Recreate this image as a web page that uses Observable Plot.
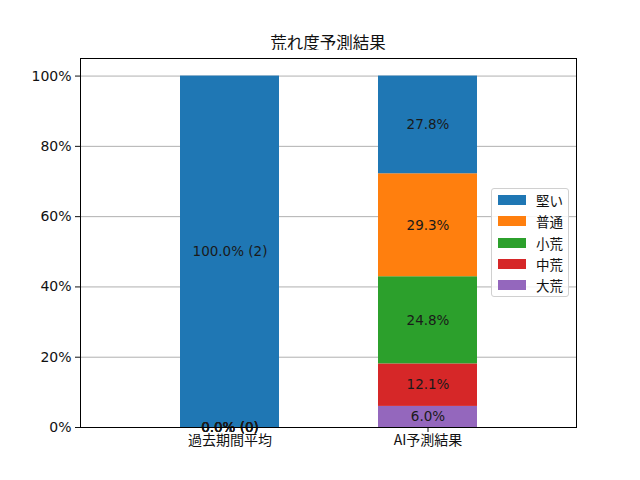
<!DOCTYPE html>
<html>
<head>
<meta charset="utf-8">
<script src="https://cdn.jsdelivr.net/npm/d3@7"></script>
<script src="https://cdn.jsdelivr.net/npm/@observablehq/plot@0.6"></script>
<style>
  body { margin: 0; background: white; font-family: "DejaVu Sans", "Noto Sans CJK JP", sans-serif; }
  #wrap { position: relative; width: 640px; height: 480px; overflow: hidden; }
  #title { position: absolute; left: 80px; width: 496px; top: 30px; text-align: center; font-size: 16.5px; color: #111; font-family: "Noto Sans CJK JP", "DejaVu Sans", sans-serif; }
  #chart { position: absolute; left: 0; top: 50px; }
  #legend { position: absolute; left: 491px; top: 188px; width: 78px; height: 109px; box-sizing: border-box;
            border: 1px solid #d0d0d0; border-radius: 3px; background: rgba(255,255,255,0.85); }
  .item { position: absolute; left: 6px; height: 20px; display: flex; align-items: center; font-size: 13.5px; color: #111; font-family: "Noto Sans CJK JP", "DejaVu Sans", sans-serif; }
  .sw { width: 28px; height: 10px; margin-right: 10px; }
</style>
</head>
<body>
<div id="wrap">
  <div id="title">荒れ度予測結果</div>
  <div id="chart"></div>
  <div id="legend"></div>
</div>
<script>
const categories = ["過去期間平均", "AI予測結果"];
const levels = ["大荒", "中荒", "小荒", "普通", "堅い"]; // bottom to top
const legendOrder = ["堅い", "普通", "小荒", "中荒", "大荒"];
const colors = ["#9467bd", "#d62728", "#2ca02c", "#ff7f0e", "#1f77b4"];
const pastPct = [0, 0, 0, 0, 100];
const pastCount = [0, 0, 0, 0, 2];
const aiPct = [6.0, 12.1, 24.8, 29.3, 27.8];
const yTicks = [0, 20, 40, 60, 80, 100];

const rows = [];
function addStack(cat, pcts, counts) {
  let acc = 0;
  levels.forEach((lv, i) => {
    const v = pcts[i];
    rows.push({
      cat, level: lv, y1: acc, y2: acc + v,
      label: counts ? `${v.toFixed(1)}% (${counts[i]})` : `${v.toFixed(1)}%`
    });
    acc += v;
  });
}
addStack(categories[0], pastPct, pastCount);
addStack(categories[1], aiPct, null);

const plot = Plot.plot({
  width: 640, height: 430,
  marginLeft: 80, marginRight: 64, marginTop: 8, marginBottom: 53,
  style: { fontFamily: "'DejaVu Sans', 'Noto Sans CJK JP', sans-serif", fontSize: "14px", color: "#111", background: "white" },
  x: { domain: categories, paddingInner: 0.5, paddingOuter: 0.5, label: null, tickSize: 5, tickPadding: 3 },
  y: { domain: [0, 105], ticks: yTicks, tickFormat: d => d + "%", label: null, tickSize: 5, tickPadding: 4 },
  color: { domain: levels, range: colors },
  marks: [
    Plot.gridY(yTicks.filter(d => d > 0), { stroke: "#b0b0b0", strokeOpacity: 1, strokeWidth: 1 }),
    Plot.barY(rows, { x: "cat", y1: "y1", y2: "y2", fill: "level" }),
    Plot.text(rows, { x: "cat", y: d => (d.y1 + d.y2) / 2, text: "label", fill: "#1a1a1a", fontSize: 13.5 }),
    Plot.frame({ stroke: "black", strokeWidth: 1 })
  ]
});
plot.querySelectorAll('[aria-label="x-axis tick label"] text, [aria-label="x-axis tick label"]').forEach(el => el.setAttribute("font-family", "'Noto Sans CJK JP', 'DejaVu Sans', sans-serif"));
document.getElementById("chart").appendChild(plot);

const legend = document.getElementById("legend");
legendOrder.forEach((lv, i) => {
  const it = document.createElement("div");
  it.className = "item";
  it.style.top = (1 + i * 21.3) + "px";
  const sw = document.createElement("div");
  sw.className = "sw";
  sw.style.background = colors[levels.indexOf(lv)];
  it.appendChild(sw);
  it.appendChild(document.createTextNode(lv));
  legend.appendChild(it);
});
</script>
</body>
</html>
